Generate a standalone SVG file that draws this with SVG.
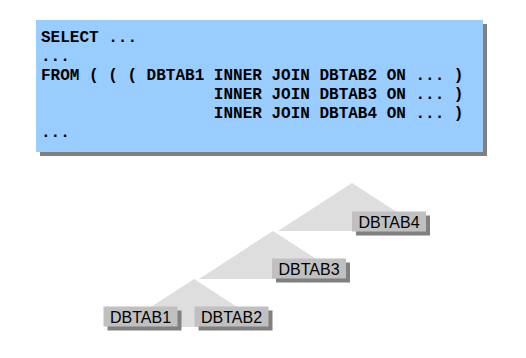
<svg xmlns="http://www.w3.org/2000/svg" width="526" height="358" viewBox="0 0 526 358">
<style>
.sql{font-family:"Liberation Mono","Courier New",monospace;font-weight:bold;font-size:16px;fill:#000;white-space:pre}
.shadow{fill:#808080}
.box{fill:#c0c0c0}
.tri{fill:#dedede}
.lbl{font-family:"Liberation Sans",Arial,sans-serif;font-size:16px;fill:#000;text-anchor:middle}
</style>
<rect width="526" height="358" fill="#fff"/>
<g id="sql">
<rect class="shadow" x="40" y="24" width="447" height="132"/>
<rect x="36" y="20" width="447" height="132" fill="#99ccff"/>
<text class="sql" x="41" y="42" xml:space="preserve">SELECT ...</text>
<text class="sql" x="41" y="61" xml:space="preserve">...</text>
<text class="sql" x="41" y="80" xml:space="preserve">FROM ( ( ( DBTAB1 INNER JOIN DBTAB2 ON ... )</text>
<text class="sql" x="41" y="99" xml:space="preserve">                  INNER JOIN DBTAB3 ON ... )</text>
<text class="sql" x="41" y="118" xml:space="preserve">                  INNER JOIN DBTAB4 ON ... )</text>
<text class="sql" x="41" y="137" xml:space="preserve">...</text>
</g>
<g id="connectors">
<polygon class="tri" points="352,183 278,231 426,231"/>
<polygon class="tri" points="273,231 199,279 347,279"/>
<polygon class="tri" points="194,279 120,327 268,327"/>
</g>
<g id="DBTAB4">
<rect class="shadow" x="356" y="215.5" width="74" height="20"/>
<rect class="box" x="352" y="211.5" width="74" height="20"/>
<text class="lbl" x="389" y="227.5">DBTAB4</text>
</g>
<g id="DBTAB3">
<rect class="shadow" x="276" y="262.5" width="74" height="20"/>
<rect class="box" x="272" y="258.5" width="74" height="20"/>
<text class="lbl" x="309" y="274.5">DBTAB3</text>
</g>
<g id="DBTAB1">
<rect class="shadow" x="107.5" y="310.5" width="74" height="20"/>
<rect class="box" x="103.5" y="306.5" width="74" height="20"/>
<text class="lbl" x="140.5" y="322.5">DBTAB1</text>
</g>
<g id="DBTAB2">
<rect class="shadow" x="198.5" y="310.5" width="74" height="20"/>
<rect class="box" x="194.5" y="306.5" width="74" height="20"/>
<text class="lbl" x="231.5" y="322.5">DBTAB2</text>
</g>
</svg>
